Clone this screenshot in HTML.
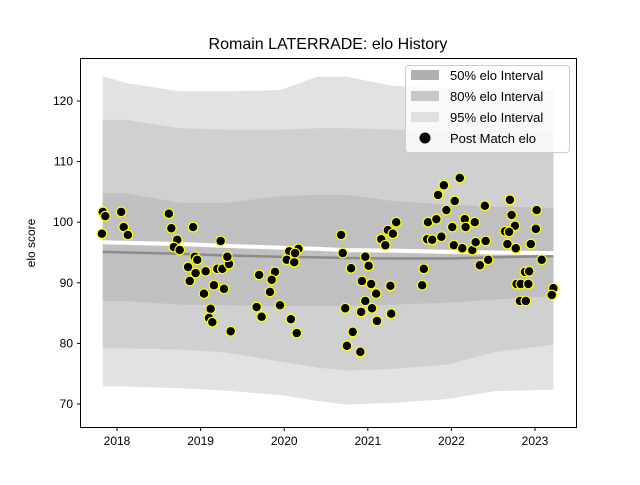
<!DOCTYPE html>
<html><head><meta charset="utf-8"><style>
body{margin:0;background:#fff;font-family:"Liberation Sans",sans-serif}
svg text{font-family:"Liberation Sans",sans-serif}
</style></head><body>
<svg id="chart" width="640" height="480">
<rect width="640" height="480" fill="#fff"/>
<text x="328" y="49" text-anchor="middle" font-size="16">Romain LATERRADE: elo History</text>
<g id="plot"></g>
<text transform="translate(35,243) rotate(-90)" text-anchor="middle" font-size="12">elo score</text>
</svg>
<script>
const bandDates=[2017.83,2018.1,2018.75,2019.3,2019.95,2020.4,2020.75,2021.3,2021.95,2022.5,2023.22];
const up95=[124.1,123,121.6,121.6,121.8,124,124,122.5,122.1,122,121.8];
const lo95=[72.9,72.9,72.6,72.2,71.5,70.5,69.9,70.2,70.8,72.1,72.4];
const up80=[116.9,116.9,115.5,115.3,115.3,115.5,115.5,115.3,115.3,115.3,115.3];
const lo80=[79.2,79.2,79,78.5,77,76,75.5,75.8,76.5,78.5,79.8];
const up50=[104.8,104.8,103.2,103.2,104.3,104.5,104.5,103.5,102.9,102.6,102.3];
const lo50=[87,87,86.4,86.3,86.2,86.2,86.2,86.4,86.7,87.2,87.8];
const meanLine=[95.1,95,94.8,94.5,94.3,94.2,94.1,94,94,94.2,94.4];
const whiteLine=[96.7,96.6,96.4,96.1,95.8,95.6,95.4,95.3,95.1,95,94.9];
const matchDates=[2017.83,2017.86,2018.05,2017.82,2018.08,2018.13,2018.62,2018.65,2018.91,2018.72,2018.68,2018.75,2019.24,2018.93,2018.96,2018.85,2018.94,2019.06,2019.20,2019.26,2019.34,2019.32,2018.87,2019.16,2019.28,2019.04,2019.12,2019.10,2019.14,2019.36,2019.70,2019.89,2019.85,2019.83,2019.67,2019.73,2019.95,2020.08,2020.15,2020.06,2020.17,2020.03,2020.12,2020.13,2020.68,2020.70,2020.80,2020.97,2021.01,2020.93,2021.04,2021.10,2020.97,2021.05,2020.73,2020.92,2021.11,2020.82,2020.75,2020.91,2021.27,2021.28,2021.16,2021.24,2021.30,2021.21,2021.34,2021.67,2021.65,2021.72,2021.71,2021.77,2021.82,2021.88,2021.84,2021.91,2022.10,2022.04,2021.94,2022.01,2022.16,2022.17,2022.28,2022.03,2022.13,2022.25,2022.29,2022.41,2022.40,2022.34,2022.44,2022.70,2022.72,2022.76,2022.64,2022.69,2022.67,2022.77,2023.02,2023.01,2022.95,2023.08,2022.88,2022.93,2022.78,2022.83,2022.92,2022.82,2022.89,2023.22,2023.20];
const matchElo=[101.7,101.0,101.7,98.1,99.2,97.9,101.4,99.0,99.2,97.1,95.9,95.4,96.9,94.3,93.8,92.6,91.6,91.9,92.3,92.3,93.1,94.3,90.3,89.6,89.0,88.2,85.7,84.2,83.5,82.0,91.3,91.8,90.5,88.5,86.0,84.4,86.3,84.0,81.7,95.2,95.6,93.8,93.4,94.9,97.9,94.9,92.4,94.3,92.8,90.3,89.8,88.2,87.0,85.8,85.8,85.2,83.7,81.9,79.6,78.6,89.5,84.9,97.2,98.7,98.1,96.2,100.0,92.3,89.6,100.0,97.2,97.1,100.5,97.6,104.5,106.1,107.3,103.5,102.0,99.2,100.5,99.2,100.0,96.2,95.7,95.4,96.7,96.9,102.7,92.9,93.8,103.7,101.2,99.4,98.5,98.4,96.4,95.7,102.0,98.9,96.4,93.8,91.8,91.9,89.8,89.8,89.8,87.0,87.0,89.1,88.0];
const yTicks=[70,80,90,100,110,120];
const xTicks=[2018,2019,2020,2021,2022,2023];

const NS="http://www.w3.org/2000/svg";
const L=80,R=576,T=58,B=427;
const xs=v=>117+(v-2018)*83.6;
const ys=v=>404-(v-70)*6.06;
const g=document.getElementById('plot');
function mk(t,a){const e=document.createElementNS(NS,t);for(const k in a)e.setAttribute(k,a[k]);g.appendChild(e);return e;}
function band(u,l,fill,name){
  let d=bandDates.map((t,i)=>(i?'L':'M')+xs(t)+','+ys(u[i])).join('');
  for(let i=bandDates.length-1;i>=0;i--)d+='L'+xs(bandDates[i])+','+ys(l[i]);
  const p=mk('path',{d:d+'Z',fill:fill});
  
  
}
band(up95,lo95,'#e2e2e2','band-95');
band(up80,lo80,'#d0d0d0','band-80');
band(up50,lo50,'#c0c0c0','band-50');
function line(arr,stroke,w,name){
  const p=mk('path',{d:bandDates.map((t,i)=>(i?'L':'M')+xs(t)+','+ys(arr[i])).join(''),fill:'none',stroke:stroke,'stroke-width':w});
  
  
}
line(meanLine,'#8c8c8c',2.5,'mean-elo-line');
line(whiteLine,'#ffffff',4,'elo-trend-line');
matchDates.forEach((t,i)=>{
  const c=mk('circle',{cx:xs(t),cy:ys(matchElo[i]),r:4.8,fill:'#000',stroke:'#ffff00','stroke-width':1.2});
  
  
});
const fr=mk('rect',{x:L+0.5,y:T+0.5,width:R-L,height:B-T,fill:'none',stroke:'#000','stroke-width':1});


yTicks.forEach(v=>{
  mk('line',{x1:L+0.5,x2:L-3,y1:ys(v),y2:ys(v),stroke:'#000'});
  const t=mk('text',{x:L-7,y:ys(v)+4,'text-anchor':'end','font-size':12});
  t.textContent=v;
  
  
});
xTicks.forEach(v=>{
  mk('line',{x1:xs(v),x2:xs(v),y1:B+0.5,y2:B+4,stroke:'#000'});
  const t=mk('text',{x:xs(v),y:B+18,'text-anchor':'middle','font-size':12});
  t.textContent=v;
  
  
});
const lg=mk('rect',{x:405.5,y:65.5,width:164,height:87,rx:3,fill:'#fff','fill-opacity':0.8,stroke:'#cccccc'});


const items=[['50% elo Interval','#b0b0b0'],['80% elo Interval','#c8c8c8'],['95% elo Interval','#e0e0e0']];
items.forEach((it,i)=>{
  const y=69+i*21;
  const r=mk('rect',{x:411,y:y+1,width:28,height:10,fill:it[1]});
  
  
  const t=mk('text',{x:450,y:y+11,'font-size':13});
  t.textContent=it[0];
  
  
});
const lc=mk('circle',{cx:425,cy:138,r:5.5,fill:'#000'});


const lt=mk('text',{x:450,y:143,'font-size':13});
lt.textContent='Post Match elo';


</script>
</body></html>
